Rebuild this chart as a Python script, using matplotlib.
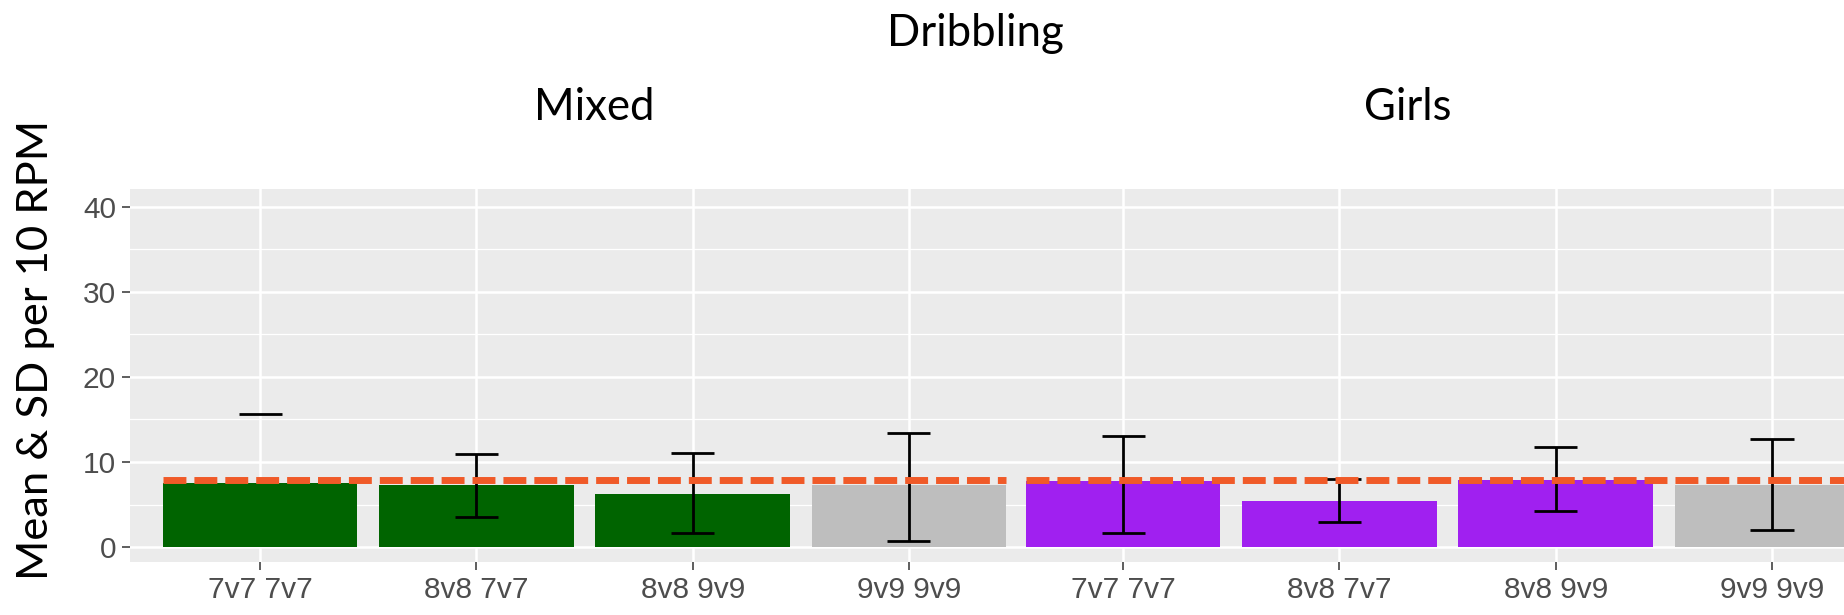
import numpy as np
import matplotlib
matplotlib.use("Agg")
import matplotlib.pyplot as plt

# ---- datos ----
categorias = ["7v7 7v7", "8v8 7v7", "8v8 9v9", "9v9 9v9"]

mixed_media = [7.56, 7.35, 6.2, 7.35]
mixed_sup = [15.7, 10.9, 11.1, 13.4]
mixed_inf = [np.nan, 3.5, 1.7, 0.7]   # la primera barra no muestra el limite inferior
mixed_colores = ["#006400", "#006400", "#006400", "#BEBEBE"]

girls_media = [7.75, 5.4, 7.9, 7.35]
girls_sup = [13.0, 8.0, 11.8, 12.7]
girls_inf = [1.7, 2.9, 4.2, 1.95]
girls_colores = ["#A020F0", "#A020F0", "#A020F0", "#BEBEBE"]

referencia = 7.9  # linea discontinua

W, H = 1844, 615
fig = plt.figure(figsize=(W / 100, H / 100), dpi=100)

def panel(x0, x1, medias, sup, inf, colores, xlim, mostrar_y):
    ax = fig.add_axes([x0 / W, (H - 562) / H, (x1 - x0) / W, (562 - 189) / H])
    ax.set_facecolor("#EBEBEB")
    x = np.arange(1, len(categorias) + 1)
    ax.bar(x, medias, width=0.9, color=colores, zorder=3)
    sup = np.array(sup)
    inf = np.array(inf)
    ok = ~np.isnan(inf)
    ax.vlines(x[ok], inf[ok], sup[ok], color="black", lw=2, zorder=4)
    ax.hlines(sup, x - 0.1, x + 0.1, color="black", lw=2, zorder=4)
    ax.hlines(inf[ok], x[ok] - 0.1, x[ok] + 0.1, color="black", lw=2, zorder=4)
    ax.hlines(referencia, 0.55, 4.45, color="#F05A28", lw=5, linestyles=(0, (3.3, 1.15)), zorder=5)
    ax.set_xlim(*xlim)
    ax.set_ylim(-1.76, 42.1)
    ax.set_xticks(x)
    ax.set_xticklabels(categorias)
    ax.set_yticks([0, 10, 20, 30, 40])
    ax.set_yticks([5, 15, 25, 35], minor=True)
    ax.grid(True, which="major", color="white", lw=1.8, zorder=1)
    ax.grid(True, which="minor", axis="y", color="white", lw=0.9, zorder=1)
    ax.tick_params(axis="both", which="major", length=6, width=1.1, color="#333333",
                   labelcolor="#4D4D4D", labelsize=21.5, pad=4)
    ax.tick_params(axis="both", which="minor", length=0)
    for lab in ax.get_xticklabels() + ax.get_yticklabels():
        lab.set_family("Liberation Sans")
    if not mostrar_y:
        ax.tick_params(axis="y", left=False, labelleft=False)
    for s in ax.spines.values():
        s.set_visible(False)
    return ax

panel(130, 1012, mixed_media, mixed_sup, mixed_inf, mixed_colores, (0.398, 4.477), True)
panel(1012, 1844, girls_media, girls_sup, girls_inf, girls_colores, (0.486, 4.333), False)

fig.text(975 / W, 1 - 33 / H, "Dribbling", ha="center", va="center", fontsize=31.5, family="Lato")
fig.text(594 / W, 1 - 108 / H, "Mixed", ha="center", va="center", fontsize=31.5, family="Lato")
fig.text(1408 / W, 1 - 108 / H, "Girls", ha="center", va="center", fontsize=31.5, family="Lato")
fig.text(36 / W, 1 - 350 / H, "Mean & SD per 10 RPM", ha="center", va="center",
         rotation=90, fontsize=31.3, family="Lato")

fig.savefig("out.png", dpi=100)
